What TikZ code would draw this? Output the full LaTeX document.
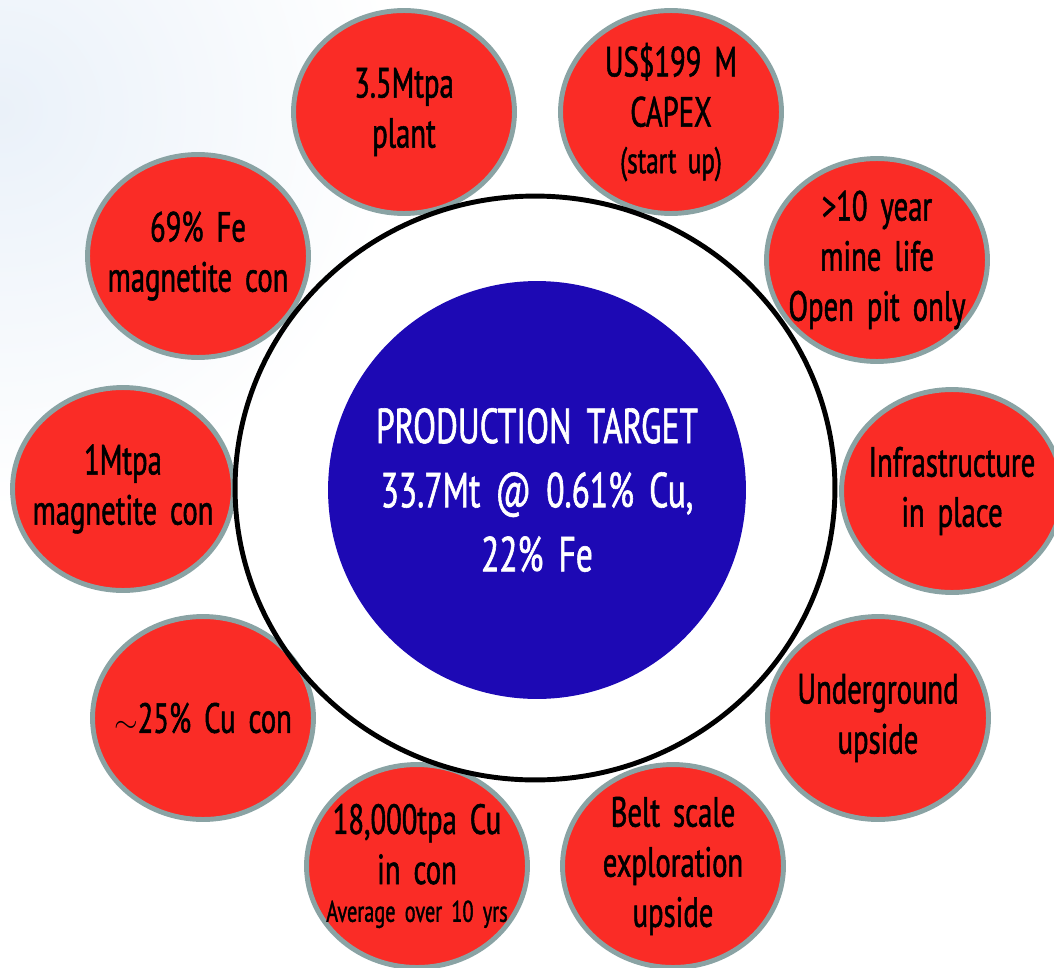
\documentclass[tikz,border=0pt]{standalone}
\usepackage{fontspec}
\setmainfont{PT Sans}[FakeStretch=0.68,WordSpace=1.7,FakeBold=1.2]
\usetikzlibrary{shapes.geometric}
\definecolor{bubblered}{RGB}{250,44,38}
\definecolor{rimgrey}{RGB}{138,163,164}
\definecolor{targetblue}{RGB}{29,9,180}
\definecolor{haze}{RGB}{234,241,249}

\begin{document}
\begin{tikzpicture}[x=0.02cm, y=-0.02cm,
    main/.style = {draw=rimgrey, line width=2.8pt, fill=bubblered, ellipse,
        minimum width=4.42cm, minimum height=4.06cm, inner xsep=-0.7cm, inner ysep=-0.5cm,
        align=center, font=\fontsize{24}{28.5}\selectfont},
    ring/.style = {draw, line width=2.8pt, ellipse, minimum width=12cm,
        minimum height=11.68cm, inner sep=0pt},
    target/.style = {circle, fill=targetblue, minimum size=8.36cm, inner sep=0pt,
        text=white, align=center, font=\fontsize{28}{36.5}\selectfont}]
    \useasboundingbox (0,0) rectangle (1054,967);
    \begin{scope}
        \clip (0,0) rectangle (1054,967);
        \shade[inner color=haze, outer color=white] (0,110) circle (400);
    \end{scope}
    \node[main] (plant) at (404,112) {3.5Mtpa\\plant};
    \node[main] (capex) at (671,112) {US\$199 M\\CAPEX\\[-2pt]{\fontsize{21}{22}\selectfont (start up)}};
    \node[main] (life) at (877,260) {>10 year\\mine life\\Open pit only};
    \node[main] (infra) at (952,491) {Infrastructure\\in place};
    \node[main] (under) at (878,718) {Underground\\upside};
    \node[main] (belt) at (673,866) {Belt scale\\exploration\\upside};
    \node[main] (cu) at (417,866) {18,000tpa Cu\\in con\\[-7pt]{\fontsize{17}{18}\selectfont Average over 10 yrs}};
    \node[main] (cucon) at (203,718) {{\fontsize{19}{20}\selectfont$\sim$}25\% Cu con};
    \node[main] (mtpa) at (123,489) {1Mtpa\\magnetite con};
    \node[main] (fe) at (198,256) {69\% Fe\\magnetite con};
    \node[ring] (outer) at (535,488) {};
    \node[target] (core) at (537,490) {PRODUCTION TARGET\\33.7Mt @ 0.61\% Cu,\\22\% Fe};
\end{tikzpicture}
\end{document}
